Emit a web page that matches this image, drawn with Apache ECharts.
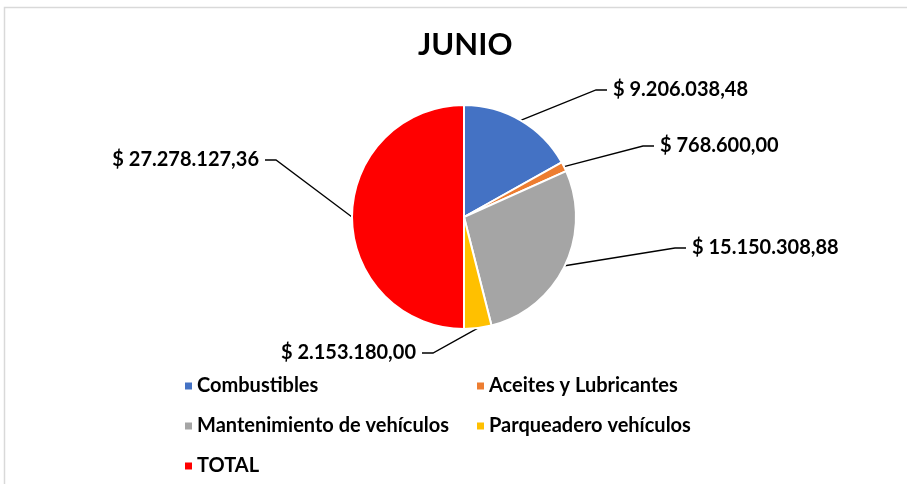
<!DOCTYPE html>
<html>
<head>
<meta charset="utf-8">
<script src="https://cdn.jsdelivr.net/npm/echarts@6/dist/echarts.min.js"></script>
<style>
  html, body { margin: 0; padding: 0; background: #fff; }
  #chart { width: 907px; height: 484px; }
</style>
</head>
<body>
<div id="chart"></div>
<script>
const categories = ['Combustibles', 'Aceites y Lubricantes', 'Mantenimiento de vehículos', 'Parqueadero vehículos', 'TOTAL'];
const values = [9206038.48, 768600.00, 15150308.88, 2153180.00, 27278127.36];
const colors = ['#4472C4', '#ED7D31', '#A5A5A5', '#FFC000', '#FF0000'];

// where each value label sits: [x, y, align]
const labelPos = [
  [607, 90, 'left'],
  [654, 146, 'left'],
  [686, 248, 'left'],
  [422, 353, 'right'],
  [265, 160, 'right']
];

const fmt = v => {
  const [ent, dec] = v.toFixed(2).split('.');
  return '$ ' + ent.replace(/\B(?=(\d{3})+(?!\d))/g, '.') + ',' + dec;
};

const chart = echarts.init(document.getElementById('chart'));
const font = 'Lato, "Open Sans", sans-serif';
const legendText = { fontFamily: font, fontWeight: 'bold', fontSize: 20, color: '#000', lineHeight: 20 };

chart.setOption({
  animation: false,
  color: colors,
  title: {
    text: 'JUNIO',
    left: 413,
    top: 24,
    textStyle: { fontFamily: font, fontWeight: 'bold', fontSize: 31, color: '#000' }
  },
  graphic: [{
    type: 'rect',
    shape: { x: 4.5, y: 7.5, width: 1000, height: 1000 },
    style: { fill: 'none', stroke: '#d9d9d9', lineWidth: 1.5 },
    silent: true
  }],
  legend: [
    {
      data: [categories[0], categories[2], categories[4]],
      orient: 'vertical', left: 185, top: 376, padding: 0,
      icon: 'rect', itemWidth: 7, itemHeight: 7, itemGap: 20, itemStyle: { borderWidth: 0 },
      textStyle: legendText
    },
    {
      data: [categories[1], categories[3]],
      orient: 'vertical', left: 477, top: 376, padding: 0,
      icon: 'rect', itemWidth: 7, itemHeight: 7, itemGap: 20, itemStyle: { borderWidth: 0 },
      textStyle: legendText
    }
  ],
  series: [{
    type: 'pie',
    center: [464, 217],
    radius: 112,
    startAngle: 90,
    clockwise: true,
    itemStyle: { borderColor: '#fff', borderWidth: 2 },
    label: {
      show: true,
      formatter: p => fmt(p.value),
      padding: [0, 6],
      backgroundColor: 'rgba(255,255,255,0)',
      fontFamily: font, fontWeight: 'bold', fontSize: 20, color: '#000'
    },
    labelLine: {
      show: true, length: 10, length2: 11,
      lineStyle: { color: '#000', width: 1.3 }
    },
    labelLayout: params => {
      const p = labelPos[params.dataIndex];
      return { x: p[0], y: p[1], align: p[2], verticalAlign: 'middle' };
    },
    data: categories.map((c, i) => ({ name: c, value: values[i] }))
  }]
});
</script>
</body>
</html>
